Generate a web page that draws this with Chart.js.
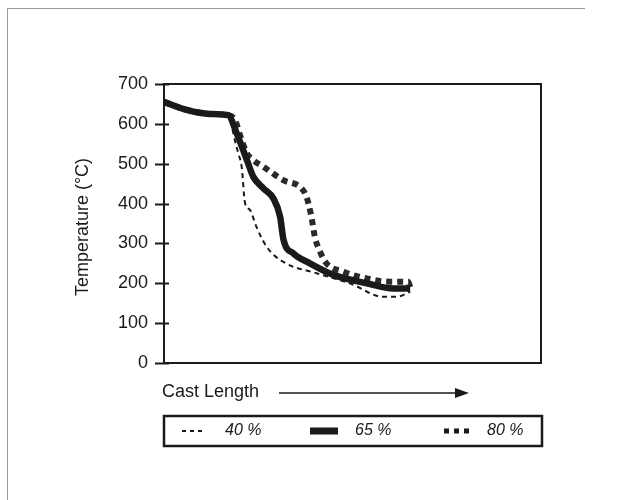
<!DOCTYPE html>
<html>
<head>
<meta charset="utf-8">
<script src="https://cdn.jsdelivr.net/npm/chart.js@4.4.1/dist/chart.umd.min.js"></script>
<style>
  html, body { margin: 0; padding: 0; background: #fff; }
  #wrap { width: 618px; height: 500px; }
</style>
</head>
<body>
<div id="wrap"><canvas id="myChart" width="618" height="500"></canvas></div>
<script>
// cast length position (0-100, arbitrary units) and temperature
const pos40 = [0, 6, 12, 17, 18, 18.8, 19.7, 20.6, 21.5, 22.8, 24.5, 27.2, 31.6, 40.5, 49.3, 58.2, 61.7, 65.3];
const temp40 = [655, 635, 625, 622, 593, 559, 526, 492, 401, 384, 342, 292, 254, 225, 200, 166, 166, 179];

const pos65 = [0, 6, 12, 17, 19.3, 22, 23.7, 26.4, 29, 30.8, 31.7, 34.3, 38.7, 44.9, 53.8, 60.8, 65.3];
const temp65 = [655, 635, 625, 622, 576, 509, 467, 438, 413, 367, 309, 275, 250, 221, 200, 187, 187];

const pos80 = [0, 6, 12, 17, 18.8, 20.6, 22, 23.7, 26.4, 31.6, 36.5, 37.8, 39.1, 40, 41.4, 43.1, 47.6, 53.8, 59.9, 64.8, 65.3];
const temp80 = [655, 635, 625, 622, 610, 559, 526, 509, 492, 459, 438, 417, 367, 317, 279, 250, 229, 212, 204, 204, 190];

const yTicks = [0, 100, 200, 300, 400, 500, 600, 700];
const seriesNames = ["40 %", "65 %", "80 %"];

const FONT = "'Liberation Sans', Arial, sans-serif";
const INK = "#1a1a1a";

function toPoints(xs, ys) {
  return xs.map((x, i) => ({ x: x, y: ys[i] }));
}

// frame, ticks, axis titles, arrow, boxed legend, page border
const extras = {
  id: "extras",
  afterDraw(chart) {
    const c = chart.ctx;
    const a = chart.chartArea;
    const ys = chart.scales.y;
    c.save();

    // page border (top + left only, faint)
    c.strokeStyle = "#9a9a9a";
    c.lineWidth = 1;
    c.beginPath();
    c.moveTo(7.5, 500);
    c.lineTo(7.5, 8.5);
    c.lineTo(585, 8.5);
    c.stroke();

    // plot frame
    c.strokeStyle = INK;
    c.lineWidth = 2;
    c.strokeRect(a.left, a.top, a.right - a.left, a.bottom - a.top);

    // y ticks crossing the axis
    yTicks.forEach((v) => {
      const py = Math.round(ys.getPixelForValue(v)) + 0.5;
      c.beginPath();
      c.moveTo(a.left - 9, py);
      c.lineTo(a.left + 5, py);
      c.stroke();
    });

    // y title
    c.fillStyle = INK;
    c.font = "18px " + FONT;
    c.textBaseline = "middle";
    c.textAlign = "center";
    c.save();
    c.translate(83, 227);
    c.rotate(-Math.PI / 2);
    c.fillText("Temperature (°C)", 0, 0);
    c.restore();

    // x label and arrow
    c.textAlign = "left";
    c.fillText("Cast Length", 162, 392);
    c.lineWidth = 1.5;
    c.beginPath();
    c.moveTo(279, 393);
    c.lineTo(458, 393);
    c.stroke();
    c.beginPath();
    c.moveTo(469, 393);
    c.lineTo(455, 388);
    c.lineTo(455, 398);
    c.closePath();
    c.fill();

    // legend box
    c.lineWidth = 2.5;
    c.strokeRect(164, 416, 378, 30);
    const ly = 431;
    c.font = "italic 16px " + FONT;
    const samples = [
      { x0: 182, x1: 205, w: 2, dash: [4, 4], tx: 225 },
      { x0: 310, x1: 338, w: 7, dash: [], tx: 355 },
      { x0: 444, x1: 469, w: 5, dash: [5, 5], tx: 487 }
    ];
    samples.forEach((s, i) => {
      c.lineWidth = s.w;
      c.setLineDash(s.dash);
      c.beginPath();
      c.moveTo(s.x0, ly);
      c.lineTo(s.x1, ly);
      c.stroke();
      c.setLineDash([]);
      c.fillText(seriesNames[i], s.tx, ly);
    });

    c.restore();
  }
};

const ctx = document.getElementById("myChart").getContext("2d");
const myChart = new Chart(ctx, {
  type: "line",
  data: {
    datasets: [
      {
        label: seriesNames[0],
        data: toPoints(pos40, temp40),
        borderColor: INK,
        borderWidth: 2,
        borderDash: [5, 4]
      },
      {
        label: seriesNames[1],
        data: toPoints(pos65, temp65),
        borderColor: INK,
        borderWidth: 6.5
      },
      {
        label: seriesNames[2],
        data: toPoints(pos80, temp80),
        borderColor: "#2a2a2a",
        borderWidth: 6,
        borderDash: [6, 5]
      }
    ]
  },
  plugins: [extras],
  options: {
    responsive: false,
    animation: false,
    layout: { padding: { left: 0, right: 77, top: 84, bottom: 137 } },
    elements: {
      point: { radius: 0 },
      line: { fill: false, borderCapStyle: "butt", cubicInterpolationMode: "monotone" }
    },
    plugins: { legend: { display: false }, tooltip: { enabled: false } },
    scales: {
      x: {
        type: "linear",
        min: 0,
        max: 100,
        display: false
      },
      y: {
        min: 0,
        max: 700,
        afterFit(scale) { scale.width = 164; },
        afterBuildTicks(scale) { scale.ticks = yTicks.map((v) => ({ value: v })); },
        grid: { display: false, drawOnChartArea: false },
        border: { display: false },
        ticks: {
          color: INK,
          padding: 8,
          font: { family: FONT, size: 18 }
        }
      }
    }
  }
});
</script>
</body>
</html>
